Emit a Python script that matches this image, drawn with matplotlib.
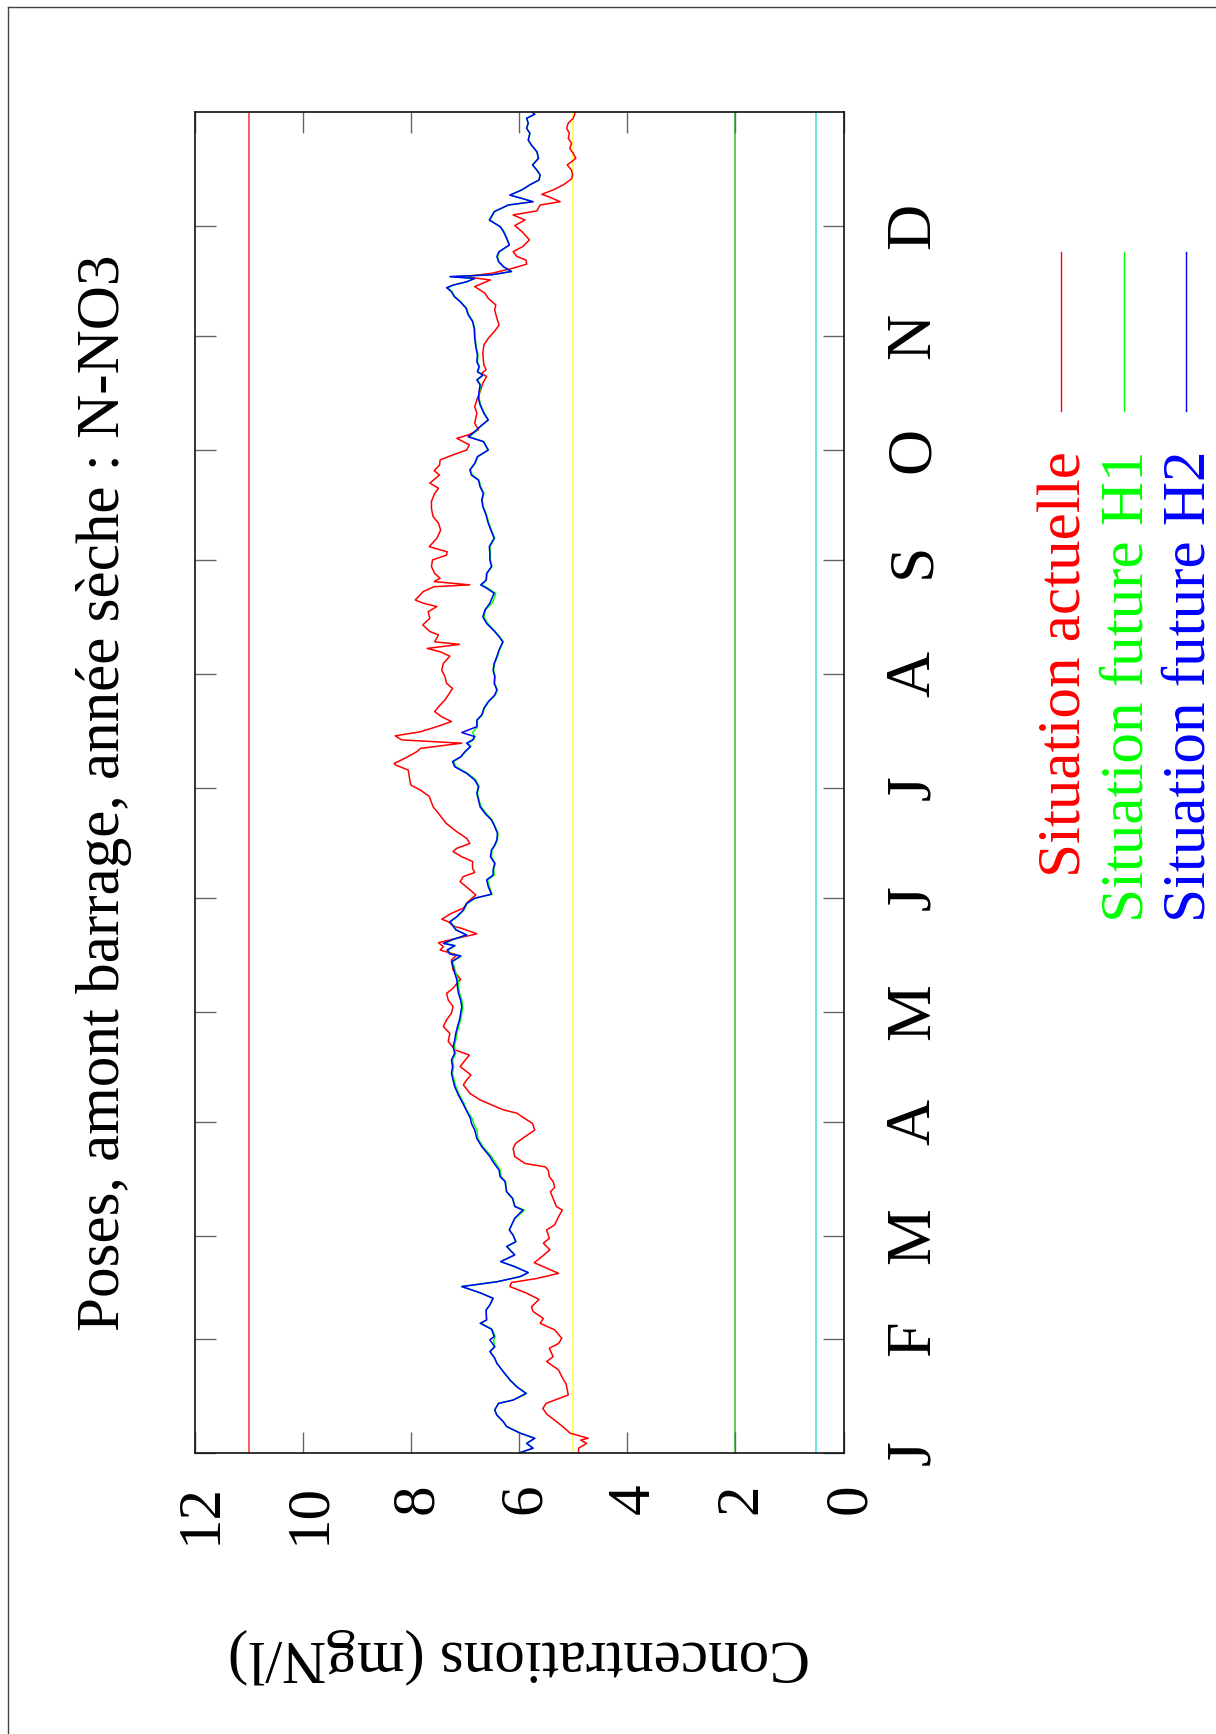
import matplotlib
matplotlib.use("Agg")
import matplotlib.pyplot as plt
from matplotlib.lines import Line2D

plt.rcParams['font.family'] = ['Liberation Serif', 'DejaVu Serif']

title = "Poses, amont barrage, année sèche : N-NO3"
axis_label = "Concentrations (mgN/l)"
month_labels = ["J", "F", "M", "A", "M", "J", "J", "A", "S", "O", "N", "D"]
month_start_days = [0, 31, 59, 90, 120, 151, 181, 212, 243, 273, 304, 334]
conc_ticks = [0, 2, 4, 6, 8, 10, 12]
series_names = ["Situation actuelle", "Situation future H1", "Situation future H2"]
series_colors = ["#ff0000", "#00ff00", "#0000ff"]
threshold_values = [11, 5, 2, 0.5]
threshold_colors = ["#ff3030", "#ffff40", "#30c030", "#40e0e0"]

red_days = [0.0, 1.2, 2.5, 3.4, 3.9, 5.3, 6.2, 8.0, 10.5, 12.0,
            13.4, 15.7, 18.7, 20.7, 22.5, 24.8, 26.1, 28.4, 29.7, 31.1,
            33.4, 35.2, 36.5, 38.4, 39.7, 41.7, 43.4, 45.2, 46.3, 47.4,
            48.8, 50.2, 51.7, 53.3, 55.2, 57.0, 58.3, 60.6, 62.0, 64.2,
            66.0, 67.0, 69.2, 71.0, 72.2, 73.8, 75.1, 76.9, 77.8, 78.7,
            80.6, 82.8, 84.2, 86.0, 87.8, 89.6, 91.0, 92.4, 93.3, 94.6,
            96.0, 97.8, 100.1, 101.4, 102.8, 105.1, 108.2, 109.6, 111.9, 114.1,
            116.0, 117.8, 119.6, 121.4, 123.2, 125.0, 126.4, 127.7, 128.8, 131.4,
            134.1, 135.5, 136.8, 137.7, 138.8, 140.0, 141.2, 142.7, 143.2, 144.5,
            145.2, 146.8, 148.2, 150.0, 151.8, 153.6, 155.4, 156.8, 157.9, 159.0,
            160.9, 162.2, 163.6, 164.5, 165.8, 167.2, 169.0, 171.3, 174.0, 175.8,
            178.6, 180.4, 181.7, 183.1, 185.8, 187.2, 187.6, 189.0, 190.8, 191.7,
            193.1, 194.0, 195.1, 196.2, 197.6, 199.0, 200.3, 201.7, 203.0, 204.9,
            206.2, 208.0, 209.4, 211.2, 213.0, 214.8, 216.8, 218.0, 218.9, 220.0,
            220.7, 222.6, 223.5, 225.3, 227.1, 228.9, 230.3, 231.2, 232.1, 233.0,
            234.4, 235.7, 236.2, 237.1, 238.0, 239.3, 241.2, 243.0, 244.3, 245.2,
            246.6, 248.9, 251.1, 253.0, 254.8, 257.0, 258.9, 261.1, 262.5, 263.9,
            266.1, 267.3, 268.8, 270.2, 271.6, 272.9, 274.3, 276.1, 277.0, 278.4,
            280.2, 282.9, 284.7, 287.0, 288.8, 291.1, 292.9, 293.8, 294.7, 296.1,
            297.4, 299.2, 301.5, 303.3, 305.1, 306.9, 308.8, 311.0, 312.4, 314.2,
            315.6, 317.4, 319.2, 320.1, 321.0, 322.4, 323.5, 324.6, 325.6, 326.9,
            328.3, 330.1, 331.0, 332.4, 334.0, 335.5, 336.9, 338.0, 339.6, 340.5,
            341.9, 342.5, 343.7, 345.1, 346.7, 347.8, 349.1, 350.5, 352.3, 353.7,
            355.0, 356.4, 357.8, 359.1, 360.5, 361.9, 363.2, 364.3, 365.0]

red_conc = [4.90, 4.90, 4.75, 4.86, 4.72, 5.06, 5.12, 5.27, 5.49, 5.56,
            5.50, 5.09, 5.13, 5.21, 5.27, 5.49, 5.37, 5.44, 5.27, 5.21,
            5.34, 5.61, 5.55, 5.74, 5.77, 5.63, 5.86, 6.17, 6.14, 5.67,
            5.27, 5.49, 5.72, 5.58, 5.43, 5.55, 5.44, 5.49, 5.34, 5.27,
            5.20, 5.31, 5.37, 5.42, 5.34, 5.37, 5.44, 5.46, 5.52, 5.89,
            6.08, 6.11, 6.06, 5.89, 5.71, 5.75, 5.90, 6.04, 6.29, 6.50,
            6.72, 6.91, 7.03, 6.97, 6.89, 7.09, 6.92, 7.18, 7.31, 7.28,
            7.40, 7.34, 7.25, 7.22, 7.31, 7.34, 7.22, 7.15, 7.08, 7.22,
            7.25, 7.15, 7.46, 7.40, 7.49, 7.15, 6.78, 7.06, 7.19, 7.31,
            7.43, 7.25, 7.03, 6.94, 6.80, 6.94, 7.09, 7.03, 6.82, 6.86,
            6.86, 7.06, 7.22, 7.15, 6.91, 6.97, 7.15, 7.35, 7.49, 7.59,
            7.66, 7.83, 8.00, 8.02, 8.05, 8.29, 8.31, 8.11, 7.89, 7.82,
            7.06, 8.17, 8.29, 7.83, 7.52, 7.25, 7.43, 7.56, 7.49, 7.37,
            7.31, 7.23, 7.34, 7.37, 7.43, 7.40, 7.28, 7.46, 7.70, 7.10,
            7.56, 7.49, 7.65, 7.78, 7.65, 7.68, 7.52, 7.77, 7.92, 7.86,
            7.77, 7.57, 6.91, 7.57, 7.46, 7.56, 7.62, 7.60, 7.34, 7.33,
            7.66, 7.52, 7.45, 7.49, 7.59, 7.62, 7.62, 7.56, 7.49, 7.65,
            7.47, 7.57, 7.47, 7.46, 7.22, 6.97, 6.92, 7.15, 6.94, 6.75,
            6.82, 6.78, 6.82, 6.77, 6.72, 6.67, 6.60, 6.69, 6.61, 6.65,
            6.66, 6.67, 6.65, 6.57, 6.46, 6.37, 6.41, 6.45, 6.43, 6.57,
            6.63, 6.82, 6.53, 7.02, 6.51, 6.11, 5.86, 5.87, 6.04, 6.11,
            5.93, 5.81, 5.86, 5.95, 6.08, 5.89, 6.11, 5.67, 5.61, 5.24,
            5.46, 5.58, 5.37, 5.18, 5.03, 5.01, 5.03, 5.11, 4.95, 5.00,
            5.06, 5.03, 5.09, 5.07, 5.12, 5.09, 5.00, 4.97, 4.97]

future_days = [0.0, 1.2, 2.5, 3.9, 5.3, 7.1, 8.4, 10.2, 11.6, 13.4,
               14.3, 16.1, 17.9, 19.8, 22.0, 24.3, 25.7, 27.5, 28.8, 30.7,
               31.6, 33.6, 35.2, 36.1, 38.8, 40.2, 42.0, 43.5, 45.2, 46.5,
               47.9, 49.0, 50.6, 52.0, 53.8, 56.1, 57.4, 59.2, 60.6, 61.9,
               63.8, 66.0, 67.0, 69.2, 71.0, 73.8, 75.1, 76.9, 78.7, 80.6,
               83.3, 85.5, 87.8, 89.6, 91.0, 93.3, 95.1, 97.3, 99.6, 101.4,
               103.2, 105.1, 106.9, 108.7, 110.5, 112.3, 114.1, 115.9, 117.8, 119.6,
               121.4, 123.2, 125.0, 126.8, 128.7, 130.5, 132.3, 133.6, 135.2, 135.7,
               136.8, 138.0, 138.6, 139.7, 140.9, 142.3, 144.5, 145.9, 147.7, 149.5,
               150.9, 152.0, 154.1, 155.9, 157.2, 158.6, 160.4, 162.2, 164.0, 165.4,
               166.8, 168.6, 170.4, 172.2, 174.0, 175.8, 177.6, 179.5, 181.3, 183.1,
               184.9, 186.7, 188.1, 189.4, 190.8, 192.2, 193.1, 194.0, 194.9, 196.0,
               197.6, 199.4, 200.8, 202.6, 204.4, 206.2, 207.6, 209.4, 211.2, 213.0,
               214.8, 216.7, 218.5, 220.7, 222.1, 223.5, 225.7, 227.5, 229.4, 231.2,
               233.0, 233.9, 235.3, 236.2, 237.5, 239.3, 241.2, 243.0, 244.8, 246.6,
               248.9, 250.7, 253.0, 255.2, 257.5, 259.3, 261.1, 262.9, 264.7, 266.1,
               267.5, 269.3, 271.1, 272.9, 275.2, 276.5, 277.9, 279.3, 281.1, 282.9,
               285.2, 287.0, 288.8, 290.6, 292.0, 293.3, 294.2, 295.6, 296.9, 298.8,
               301.0, 303.3, 306.0, 307.9, 309.7, 311.5, 313.3, 314.7, 316.0, 317.1,
               317.8, 318.7, 319.6, 320.1, 320.6, 321.5, 322.8, 324.2, 325.6, 326.9,
               328.7, 330.5, 332.4, 333.7, 335.5, 337.8, 339.6, 340.5, 341.4, 342.3,
               343.7, 345.1, 346.4, 347.8, 349.1, 350.5, 352.3, 354.1, 355.9, 357.3,
               359.1, 360.5, 361.9, 363.2, 364.3, 365.0]

h2_conc = [5.98, 5.74, 5.86, 5.71, 5.98, 6.23, 6.29, 6.41, 6.45, 6.38,
           6.11, 5.87, 6.04, 6.17, 6.29, 6.41, 6.45, 6.54, 6.45, 6.54,
           6.46, 6.51, 6.72, 6.60, 6.61, 6.54, 6.48, 6.72, 7.06, 6.41,
           5.98, 5.83, 6.08, 6.34, 6.08, 6.23, 6.06, 6.11, 6.18, 6.14,
           6.08, 5.93, 6.08, 6.12, 6.23, 6.26, 6.35, 6.37, 6.46, 6.54,
           6.69, 6.78, 6.82, 6.88, 6.90, 6.98, 7.04, 7.12, 7.19, 7.22,
           7.25, 7.23, 7.25, 7.19, 7.22, 7.19, 7.17, 7.14, 7.10, 7.08,
           7.06, 7.08, 7.12, 7.14, 7.15, 7.19, 7.22, 7.25, 7.08, 7.28,
           7.33, 7.19, 7.40, 7.22, 6.97, 7.17, 7.28, 7.15, 7.03, 6.97,
           6.82, 6.51, 6.57, 6.60, 6.48, 6.48, 6.45, 6.53, 6.51, 6.45,
           6.41, 6.40, 6.45, 6.51, 6.63, 6.72, 6.75, 6.78, 6.75, 6.82,
           6.97, 7.19, 7.23, 7.08, 7.00, 6.90, 6.97, 6.86, 6.82, 7.06,
           6.78, 6.78, 6.69, 6.65, 6.57, 6.45, 6.41, 6.46, 6.45, 6.48,
           6.46, 6.41, 6.37, 6.30, 6.37, 6.45, 6.60, 6.67, 6.63, 6.54,
           6.49, 6.46, 6.60, 6.71, 6.61, 6.60, 6.51, 6.54, 6.54, 6.55,
           6.46, 6.51, 6.57, 6.61, 6.67, 6.69, 6.66, 6.72, 6.75, 6.88,
           6.91, 6.82, 6.77, 6.57, 6.66, 6.94, 6.82, 6.72, 6.57, 6.65,
           6.72, 6.75, 6.74, 6.72, 6.78, 6.67, 6.77, 6.74, 6.78, 6.77,
           6.80, 6.82, 6.83, 6.86, 6.94, 6.98, 7.09, 7.20, 7.25, 7.34,
           7.22, 6.97, 6.82, 7.28, 6.51, 6.14, 6.29, 6.38, 6.41, 6.37,
           6.18, 6.23, 6.29, 6.35, 6.55, 6.46, 6.20, 5.74, 5.95, 6.17,
           5.95, 5.80, 5.63, 5.61, 5.67, 5.75, 5.64, 5.67, 5.77, 5.83,
           5.80, 5.86, 5.83, 5.86, 5.71, 5.76]

h1_conc = [5.98, 5.74, 5.86, 5.71, 5.98, 6.23, 6.29, 6.41, 6.45, 6.38,
           6.11, 5.86, 6.04, 6.17, 6.29, 6.41, 6.45, 6.53, 6.45, 6.47,
           6.44, 6.50, 6.70, 6.60, 6.61, 6.54, 6.48, 6.72, 7.06, 6.41,
           5.98, 5.83, 6.07, 6.34, 6.08, 6.22, 6.06, 6.11, 6.18, 6.14,
           6.07, 5.90, 6.07, 6.12, 6.23, 6.25, 6.33, 6.35, 6.43, 6.51,
           6.67, 6.76, 6.78, 6.84, 6.87, 6.97, 7.02, 7.10, 7.17, 7.20,
           7.23, 7.21, 7.23, 7.17, 7.20, 7.17, 7.15, 7.12, 7.08, 7.06,
           7.04, 7.06, 7.10, 7.12, 7.13, 7.17, 7.20, 7.23, 7.07, 7.27,
           7.31, 7.18, 7.38, 7.21, 6.97, 7.16, 7.27, 7.14, 7.02, 6.96,
           6.81, 6.50, 6.55, 6.58, 6.46, 6.47, 6.44, 6.51, 6.50, 6.44,
           6.40, 6.39, 6.44, 6.50, 6.61, 6.70, 6.74, 6.77, 6.74, 6.80,
           6.95, 7.17, 7.21, 7.07, 6.99, 6.89, 6.95, 6.84, 6.82, 6.86,
           6.77, 6.77, 6.68, 6.64, 6.56, 6.44, 6.40, 6.45, 6.44, 6.47,
           6.45, 6.40, 6.36, 6.29, 6.36, 6.44, 6.58, 6.65, 6.62, 6.50,
           6.45, 6.43, 6.58, 6.69, 6.60, 6.59, 6.50, 6.53, 6.53, 6.54,
           6.45, 6.50, 6.56, 6.60, 6.66, 6.68, 6.65, 6.71, 6.74, 6.86,
           6.90, 6.81, 6.76, 6.57, 6.65, 6.92, 6.81, 6.71, 6.57, 6.64,
           6.71, 6.74, 6.73, 6.71, 6.77, 6.66, 6.76, 6.73, 6.77, 6.76,
           6.79, 6.81, 6.82, 6.85, 6.93, 6.97, 7.08, 7.19, 7.24, 7.32,
           7.21, 6.97, 6.82, 7.25, 6.51, 6.14, 6.28, 6.37, 6.40, 6.36,
           6.18, 6.22, 6.28, 6.34, 6.54, 6.45, 6.19, 5.75, 5.95, 6.16,
           5.95, 5.80, 5.63, 5.61, 5.67, 5.75, 5.64, 5.67, 5.77, 5.83,
           5.80, 5.86, 5.83, 5.86, 5.71, 5.76]

assert len(red_days) == len(red_conc)
assert len(future_days) == len(h1_conc) == len(h2_conc)

W, H = 1216, 1734
fig = plt.figure(figsize=(W / 100, H / 100), dpi=100)
fig.patch.set_facecolor("white")

# page border (top and left visible)
fig.add_artist(Line2D([7.5 / W, 7.5 / W], [0, 1 - 6.5 / H], transform=fig.transFigure,
                      color="#444444", lw=1.0))
fig.add_artist(Line2D([7.5 / W, 1], [1 - 6.5 / H, 1 - 6.5 / H], transform=fig.transFigure,
                      color="#444444", lw=1.0))

ax_left, ax_right, ax_top, ax_bottom = 194.6, 843.5, 111.7, 1452.6
ax = fig.add_axes([ax_left / W, 1 - ax_bottom / H, (ax_right - ax_left) / W,
                   (ax_bottom - ax_top) / H])
ax.set_xlim(12, 0)
ax.set_ylim(0, 365)

for v, c in zip(threshold_values, threshold_colors):
    ax.axvline(v, color=c, lw=1.1, zorder=1)

series = [(red_days, red_conc), (future_days, h1_conc), (future_days, h2_conc)]
for (d, v), c in zip(series, series_colors):
    ax.plot(v, d, color=c, lw=1.1, zorder=2)

for s in ax.spines.values():
    s.set_linewidth(1.2)
    s.set_color("#111111")

ax.set_xticks(conc_ticks)
ax.set_xticklabels([str(t) for t in conc_ticks], fontsize=44, rotation=90,
                   rotation_mode="anchor", ha="right", va="center_baseline")
ax.tick_params(axis="x", direction="in", top=True, bottom=True, labelbottom=True,
               labeltop=False, length=15, width=1.0, color="#666666", pad=22)

ax.set_yticks(month_start_days)
ax.set_yticklabels(month_labels, fontsize=46, rotation=90,
                   rotation_mode="anchor", ha="center", va="top")
ax.tick_params(axis="y", direction="in", left=True, right=True, labelleft=False,
               labelright=True, length=15, width=1.0, color="#666666", pad=30)

ax.set_xlabel(axis_label, fontsize=44, rotation=180)
ax.xaxis.set_label_coords(0.5, (ax_bottom - 1628) / (ax_bottom - ax_top))

fig.text(104 / W, 1 - 793 / H, title, fontsize=44, rotation=90, ha="center", va="center")

legend_text_x = [1066, 1128, 1190]
legend_line_x = [1061, 1124, 1186]
for name, c, tx, lx in zip(series_names, series_colors, legend_text_x, legend_line_x):
    fig.text(tx / W, 1 - 451 / H, name, color=c, fontsize=44, rotation=90,
             ha="center", va="top")
    fig.add_artist(Line2D([lx / W, lx / W], [1 - 252 / H, 1 - 411 / H],
                          transform=fig.transFigure, color=c, lw=1.0))

fig.savefig("out.png", dpi=100)
